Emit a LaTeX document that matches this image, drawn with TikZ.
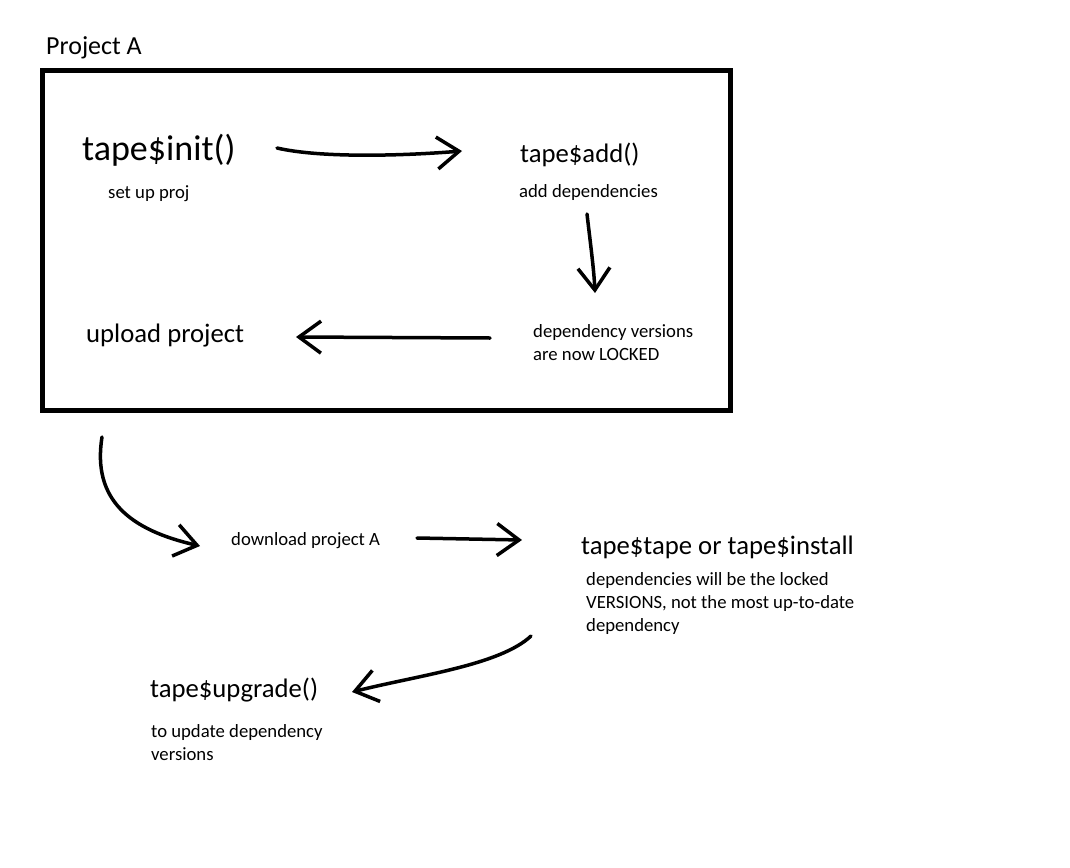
\documentclass[tikz,border=0pt]{standalone}
\usepackage{fontspec}
\setmainfont{Carlito}
\usetikzlibrary{arrows.meta, positioning}

\begin{document}
\begin{tikzpicture}[
    x=1pt, y=-1pt,
    big/.style={anchor=base west, inner sep=0pt, font=\fontsize{26.7}{32}\selectfont},
    note/.style={anchor=base west, inner sep=0pt, align=left, font=\fontsize{18.7}{23}\selectfont},
    scribble/.style={line width=3.5pt, line cap=round, line join=round, -{Straight Barb[length=22pt, width=32pt]}}
]
\useasboundingbox (0,0) rectangle (1070,867);

% Project box
\node[big, font=\fontsize{26}{30}\selectfont] (title) at (46,55) {Project A};
\node[draw, line width=5pt, anchor=north west, inner sep=0pt, minimum width=688pt, minimum height=340pt] (proj) at (40,68) {};

% Steps (notes are placed by their last line)
\node[big, font=\fontsize{36}{40}\selectfont] (init) at (82,160) {tape\$init()};
\node[note] (setup) at (108,198) {set up proj};
\node[big] (add) at (520,162) {tape\$add()};
\node[note] (adddep) at (519,197) {add dependencies};
\node[note] (locked) at (533,360) {dependency versions\\are now LOCKED};
\node[big] (upload) at (86,342) {upload project};
\node[note] (download) at (231,545) {download project A};
\node[big] (install) at (581,554) {tape\$tape or tape\$install};
\node[note] (installnote) at (586,631) {dependencies will be the locked\\VERSIONS, not the most up-to-date\\dependency};
\node[big] (upgrade) at (150,697) {tape\$upgrade()};
\node[note] (upgradenote) at (151,760) {to update dependency\\versions};

% Arrow ends
\coordinate (initout) at (277,148);
\coordinate (addin) at (462,151);
\coordinate (addout) at (587,214);
\coordinate (lockedin) at (595,293);
\coordinate (lockedout) at (490,338);
\coordinate (uploadin) at (296,337);
\coordinate (projout) at (102,437);
\coordinate (downloadin) at (200,546);
\coordinate (downloadout) at (417,538);
\coordinate (installin) at (522,540);
\coordinate (installout) at (531,636);
\coordinate (upgradein) at (352,692);

% Arrows
\draw[scribble] (initout) .. controls (320,158) and (400,156) .. (addin);
\draw[scribble] (addout) .. controls (590,240) and (594,270) .. (lockedin);
\draw[scribble] (lockedout) -- (uploadin);
\draw[scribble] (projout) .. controls (92,500) and (130,530) .. (downloadin);
\draw[scribble] (downloadout) -- (installin);
\draw[scribble] (installout) .. controls (500,665) and (420,675) .. (upgradein);

\end{tikzpicture}
\end{document}
